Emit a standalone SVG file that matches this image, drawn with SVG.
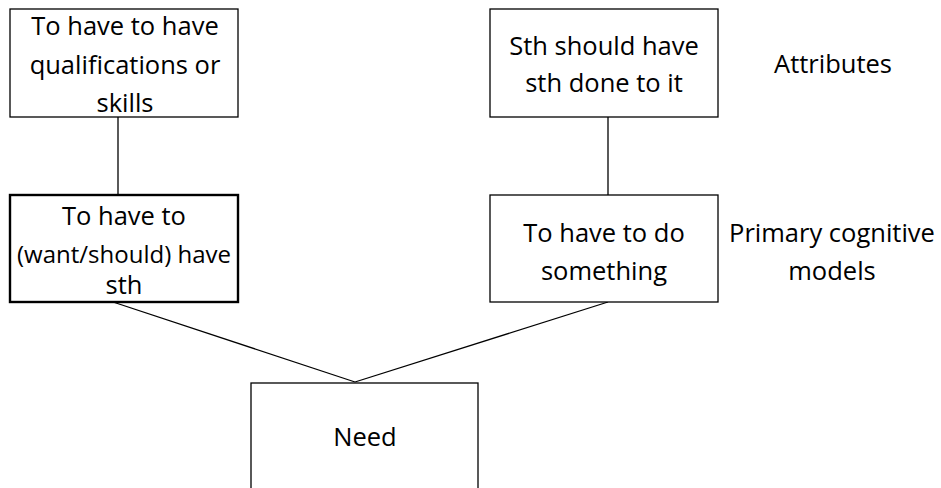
<svg xmlns="http://www.w3.org/2000/svg" width="941" height="488" viewBox="0 0 941 488">
<style>
.box{fill:#fff;stroke:#000;stroke-width:1.3}
.bold{stroke-width:2.4}
.t{font-family:"Open Sans","Noto Sans",sans-serif;font-size:25.5px;fill:#000;text-anchor:middle}
.s{font-size:23.5px}
.c{stroke:#000;stroke-width:1.3;fill:none}
</style>
<rect width="941" height="488" fill="#fff"/>
<g id="connectors">
<line class="c" x1="118" y1="117" x2="118" y2="195"/>
<line class="c" x1="608" y1="117" x2="608" y2="195"/>
<line class="c" x1="113" y1="302" x2="355" y2="382"/>
<line class="c" x1="608" y1="302" x2="355" y2="382"/>
</g>
<g id="qualifications">
<rect class="box" x="10" y="9" width="228" height="108"/>
<text class="t" x="125" y="35">To have to have</text>
<text class="t" x="125" y="74">qualifications or</text>
<text class="t" x="125" y="112">skills</text>
</g>
<g id="have-sth">
<rect class="box bold" x="10" y="195" width="228" height="107"/>
<text class="t" x="124" y="225">To have to</text>
<text class="t s" x="124" y="263" textLength="214" lengthAdjust="spacingAndGlyphs">(want/should) have</text>
<text class="t" x="124" y="294">sth</text>
</g>
<g id="done-to-it">
<rect class="box" x="490" y="9" width="228" height="108"/>
<text class="t" x="604" y="55">Sth should have</text>
<text class="t" x="604" y="92">sth done to it</text>
</g>
<g id="do-something">
<rect class="box" x="490" y="195" width="228" height="107"/>
<text class="t" x="604" y="242">To have to do</text>
<text class="t" x="604" y="280">something</text>
</g>
<g id="need">
<rect class="box" x="251" y="383" width="227" height="120"/>
<text class="t" x="365" y="446">Need</text>
</g>
<g id="labels">
<text class="t" x="833" y="73">Attributes</text>
<text class="t" x="832" y="242">Primary cognitive</text>
<text class="t" x="832" y="280">models</text>
</g>
</svg>
